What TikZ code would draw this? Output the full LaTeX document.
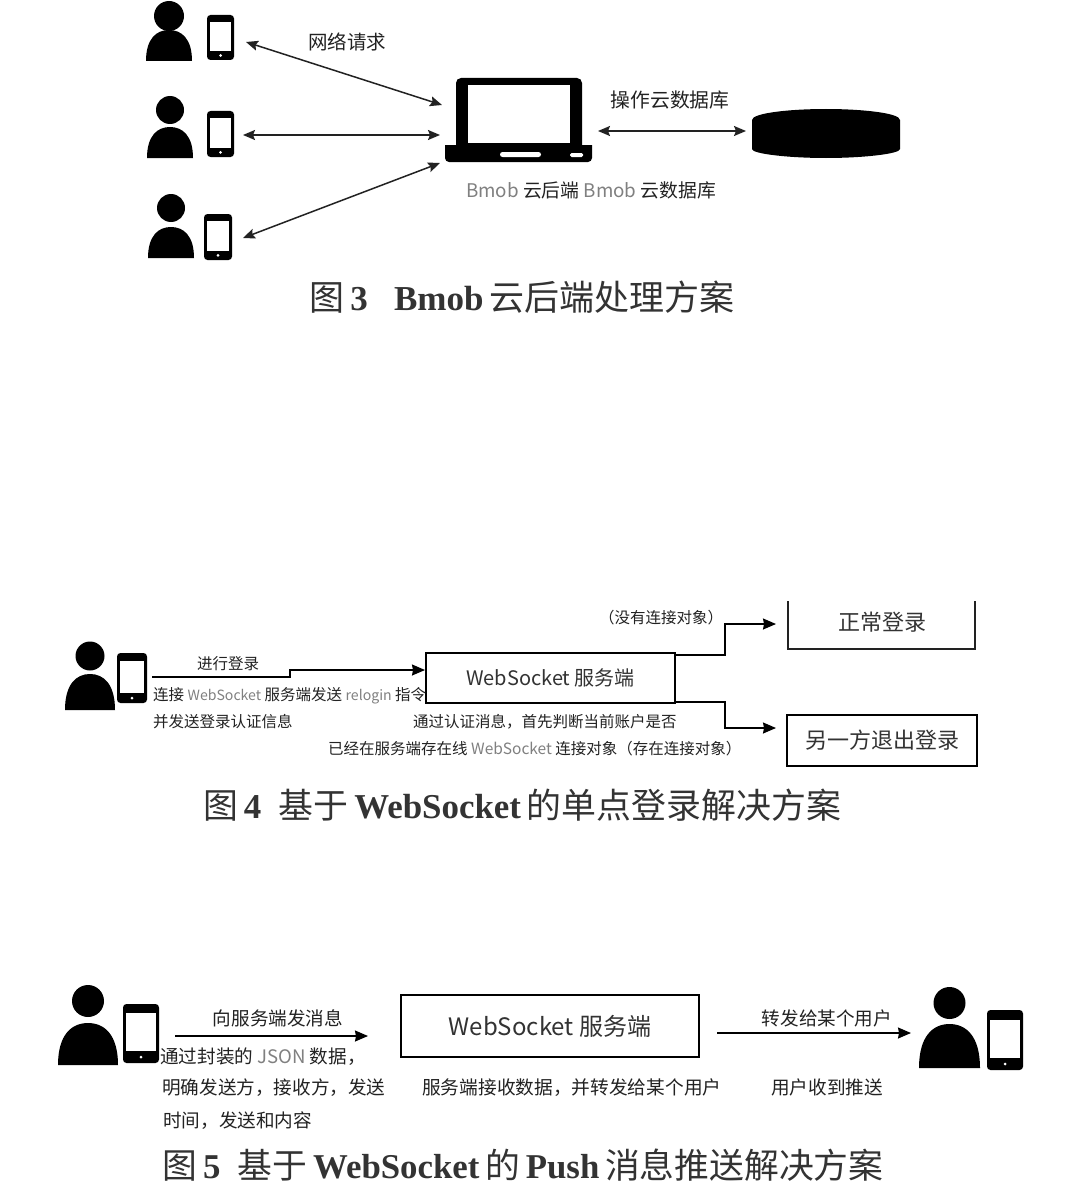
\documentclass[tikz,border=0pt]{standalone}
\usepackage{fontspec}
\setmainfont{Noto Sans CJK SC}
\newfontfamily\capserif{Liberation Serif}[BoldFont={Liberation Serif Bold}]
\usetikzlibrary{arrows.meta,calc}
\definecolor{inkc}{HTML}{222222}
\definecolor{capc}{HTML}{333333}
\newcommand{\lat}[1]{{\capserif\bfseries #1}}
% cx, bottom, half width, body height, head cy, head r
\newcommand{\figperson}[6]{%
  \fill[black] ({#1-#3},#2) .. controls ({#1-#3},{#2-0.72*#4}) and ({#1-0.55*#3},{#2-#4}) .. ({#1},{#2-#4})
    .. controls ({#1+0.55*#3},{#2-#4}) and ({#1+#3},{#2-0.72*#4}) .. ({#1+#3},#2) -- cycle;
  \fill[black] (#1,#5) circle [radius=#6];}
% x0, y0, x1, y1
\newcommand{\figphone}[4]{%
  \fill[black,rounded corners=3.5pt] (#1,#2) rectangle (#3,#4);
  \fill[white] ({#1+3},{#2+0.16*(#4-#2)}) rectangle ({#3-3},{#2+0.8*(#4-#2)});
  \fill[white] ({0.5*(#1+#3)},{#2+0.9*(#4-#2)}) circle [radius=1.5];}
\tikzset{
  x=1pt,y=-1pt,
  lbl/.style={inner sep=0pt,text=inkc,font=\fontsize{#1}{#1}\selectfont},
  lbl/.default=16,
  cap/.style={inner sep=0pt,text=capc,font=\fontsize{#1}{#1}\selectfont},
  both/.style={{Stealth[length=12pt,width=10pt,inset=2pt]}-{Stealth[length=12pt,width=10pt,inset=2pt]},line width=1.5pt,draw=inkc},
  one/.style={-{Stealth[length=13pt,width=11pt,inset=1pt]},line width=1.4pt,draw=black},
  servbox/.style={draw=black,line width=2pt,fill=white,inner sep=0pt,text=capc}
}
\newcommand{\gl}[1]{\textcolor{gray}{#1}}
\newcommand{\gls}[1]{\textcolor{gray}{\fontsize{14.1}{14.1}\selectfont #1}}
\begin{document}
\begin{tikzpicture}
\path[use as bounding box,fill=white] (0,0) rectangle (1068,1196);
\clip (0,0) rectangle (1068,1196);

% ---------- Figure 3
\figperson{169}{61}{23}{31}{16}{15}
\figphone{207}{15}{234}{60}
\figperson{170}{158}{23}{31}{110}{14}
\figphone{207}{111}{234}{157}
\figperson{171}{258}{23}{31}{208}{14}
\figphone{204}{214}{232}{260}
% laptop
\fill[black,rounded corners=5pt] (456,78) rectangle (582,152);
\fill[white] (468,85) rectangle (570,143);
\fill[black] (445,150) -- (445,145) -- (592,145) -- (592,157) [rounded corners=4pt] -- (592,162) -- (445,162) -- (445,150);
\fill[white,rounded corners=2.5pt] (500,152) rectangle (541,157);
\fill[white,rounded corners=1.5pt] (570,153) rectangle (583,157);
% database
\fill[black] (752,125) -- (752,120) .. controls (752,113) and (790,109) .. (826,109)
  .. controls (862,109) and (900,113) .. (900,120) -- (900,149)
  .. controls (900,154) and (862,158) .. (826,158)
  .. controls (790,158) and (752,154) .. (752,149) -- cycle;
\coordinate (a1s) at (246,42);  \coordinate (a1e) at (442,105);
\coordinate (a2s) at (243,135); \coordinate (a2e) at (440,135);
\coordinate (a3s) at (243,238); \coordinate (a3e) at (440,163);
\coordinate (a4s) at (598,131); \coordinate (a4e) at (746,131);
\draw[both] (a1s) -- (a1e);
\draw[both] (a2s) -- (a2e);
\draw[both] (a3s) -- (a3e);
\draw[both] (a4s) -- (a4e);
\node[lbl=19.5] (t31) at (347,42) {网络请求};
\node[lbl=19.8] (t32) at (670,100) {操作云数据库};
\node[lbl=18.8] (t33) at (591,190) {\gl{Bmob} 云后端 \gl{Bmob} 云数据库};
\node[cap=35] (c3) at (522,297) {图\,\lat{3}\hspace{0.75em}\lat{Bmob}\,云后端处理方案};

% ---------- Figure 4
\figperson{90}{710}{25}{36}{656}{14.5}
\figphone{117}{653}{147}{703}
\node[servbox,minimum width=249pt,minimum height=50pt,font=\fontsize{20}{20}\selectfont] (srv4) at (550.5,678) {WebSocket 服务端};
\coordinate (b1s) at (152,677); \coordinate (b1m1) at (290,677); \coordinate (b1m2) at (290,670); \coordinate (b1e) at (425,670);
\draw[one] (b1s) -- (b1m1) -- (b1m2) -- (b1e);
\coordinate (b2s) at (675,655); \coordinate (b2m1) at (725,655); \coordinate (b2m2) at (725,624); \coordinate (b2e) at (776,624);
\draw[one] (b2s) -- (b2m1) -- (b2m2) -- (b2e);
\coordinate (b3s) at (675,702); \coordinate (b3m1) at (725,702); \coordinate (b3m2) at (725,728); \coordinate (b3e) at (776,728);
\draw[one] (b3s) -- (b3m1) -- (b3m2) -- (b3e);
% box cut by the top edge of the crop
\draw[line width=2pt,draw=inkc] (788,601) -- (788,649) -- (975,649) -- (975,601);
\node[servbox,minimum width=190pt,minimum height=51pt,font=\fontsize{22}{22}\selectfont] (out4) at (882,740.5) {另一方退出登录};
\node[lbl=22,text=capc] (nor4) at (882,622) {正常登录};
\node[lbl=15.5] (t41) at (661,618) {（没有连接对象）};
\node[lbl=15.5] (t42) at (228,664) {进行登录};
\node[lbl=15.5,anchor=west] (t43) at (153,695.5) {连接 \gls{WebSocket} 服务端发送 \gls{relogin} 指令};
\node[lbl=15.5,anchor=west] (t44) at (153,722) {并发送登录认证信息};
\node[lbl=15.5,anchor=west] (t45) at (413,722) {通过认证消息，首先判断当前账户是否};
\node[lbl=15.5,anchor=west] (t46) at (328,749) {已经在服务端存在线 \gl{WebSocket} 连接对象（存在连接对象）};
\node[cap=34.9] (c4) at (522,805) {图\,\lat{4}\hspace{0.5em}基于\,\lat{WebSocket}\,的单点登录解决方案};

% ---------- Figure 5
\figperson{88}{1065}{30}{42}{1001}{16}
\figphone{123}{1004}{159}{1063}
\fill[white] (50,970) rectangle (130,985);
\figperson{949.5}{1068}{30.5}{44}{1003}{16}
\figphone{987}{1010}{1023}{1070}
\node[servbox,minimum width=298pt,minimum height=62pt,font=\fontsize{24}{24}\selectfont] (srv5) at (550,1026) {WebSocket 服务端};
\coordinate (c1s) at (175,1036); \coordinate (c1e) at (368,1036);
\coordinate (c2s) at (717,1033); \coordinate (c2e) at (911,1033);
\draw[one] (c1s) -- (c1e);
\draw[one] (c2s) -- (c2e);
\node[lbl=18.6] (t51) at (278,1018) {向服务端发消息};
\node[lbl=18.6] (t52) at (827,1018) {转发给某个用户};
\node[lbl=18.6,anchor=west] (t53) at (160,1056.5) {通过封装的 \gl{JSON} 数据，};
\node[lbl=18.6,anchor=west] (t54) at (162,1087.5) {明确发送方，接收方，发送};
\node[lbl=18.6,anchor=west] (t55) at (163,1120.5) {时间，发送和内容};
\node[lbl=18.7,anchor=west] (t56) at (422,1087.5) {服务端接收数据，并转发给某个用户};
\node[lbl=18.6] (t57) at (827,1087.5) {用户收到推送};
\node[cap=34.8] (c5) at (523,1165) {图\,\lat{5}\hspace{0.5em}基于\,\lat{WebSocket}\,的\,\lat{Push}\,消息推送解决方案};
\end{tikzpicture}
\end{document}
